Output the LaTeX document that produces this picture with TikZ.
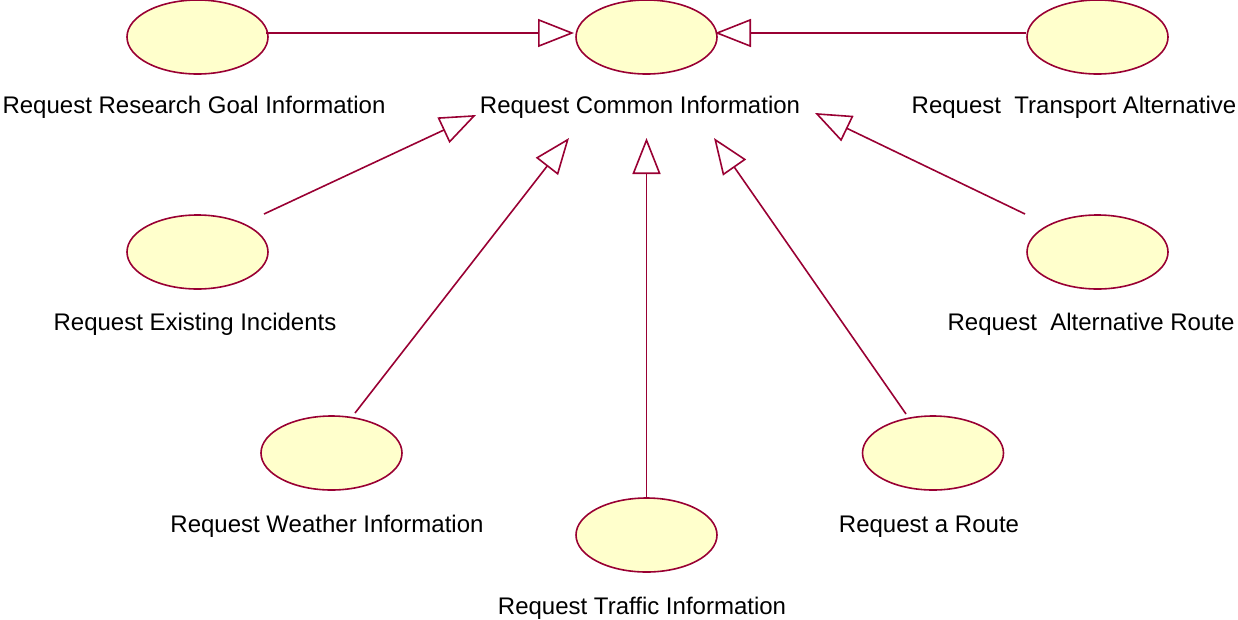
\documentclass[tikz,border=0pt]{standalone}
\usepackage{fontspec}
\setmainfont{Liberation Sans}
\usetikzlibrary{arrows.meta,shapes.geometric}
\definecolor{umlred}{HTML}{990033}
\definecolor{umlfill}{HTML}{FFFFCC}
\tikzset{
  usecase/.style={ellipse, draw=umlred, fill=umlfill, line width=1.6pt, minimum width=141pt, minimum height=74pt, inner sep=0pt},
  lbl/.style={anchor=base, inner sep=0pt, font=\fontsize{24pt}{27pt}\selectfont},
  gen/.style={draw=umlred, line width=1.6pt, -{Triangle[length=36pt, width=28pt, fill=white]}}
}
\begin{document}
\begin{tikzpicture}[x=1pt, y=-1pt]
\useasboundingbox (0,0) rectangle (1238,619);
% use cases
\node[usecase] (e1) at (197.5,37) {};
\node[usecase] (e2) at (646.5,37) {};
\node[usecase] (e3) at (1097.5,37) {};
\node[usecase] (e4) at (197.5,252) {};
\node[usecase] (e5) at (1097.5,252) {};
\node[usecase] (e6) at (331.5,453) {};
\node[usecase] (e7) at (646.5,535) {};
\node[usecase] (e8) at (933,453) {};
% labels
\node[lbl] (t1) at (194,113) {Request Research Goal Information};
\node[lbl] (t2) at (640,113) {Request Common Information};
\node[lbl, anchor=base east] (t3) at (1236.5,113) {Request\ \ Transport Alternative};
\node[lbl] (t4) at (195,330) {Request Existing Incidents};
\node[lbl] (t5) at (1091,330) {Request\ \ Alternative Route};
\node[lbl] (t6) at (327,532) {Request Weather Information};
\node[lbl] (t7) at (642,614) {Request Traffic Information};
\node[lbl] (t8) at (929,532) {Request a Route};
% connector ends
\coordinate (s1) at ([shift={(68.5,-4)}]e1.center);
\coordinate (a1) at ([shift={(-72.5,-4)}]e2.center);
\coordinate (s3) at ([shift={(-71.5,-4)}]e3.center);
\coordinate (a3) at ([shift={(68.5,-4)}]e2.center);
\coordinate (s4) at ([shift={(66.5,-38)}]e4.center);
\coordinate (a4) at (476,115);
\coordinate (s5) at ([shift={(-72.5,-38)}]e5.center);
\coordinate (a5) at (815,113);
\coordinate (s6) at ([shift={(23.5,-40)}]e6.center);
\coordinate (a6) at (569,138);
\coordinate (s7) at (e7.north);
\coordinate (a7) at (646.5,138);
\coordinate (s8) at ([shift={(-27,-39)}]e8.center);
\coordinate (a8) at (714,138);
% generalizations
\draw[gen] (s1) -- (a1);
\draw[gen] (s3) -- (a3);
\draw[gen] (s4) -- (a4);
\draw[gen] (s5) -- (a5);
\draw[gen] (s6) -- (a6);
\draw[gen] (s7) -- (a7);
\draw[gen] (s8) -- (a8);
\end{tikzpicture}
\end{document}
